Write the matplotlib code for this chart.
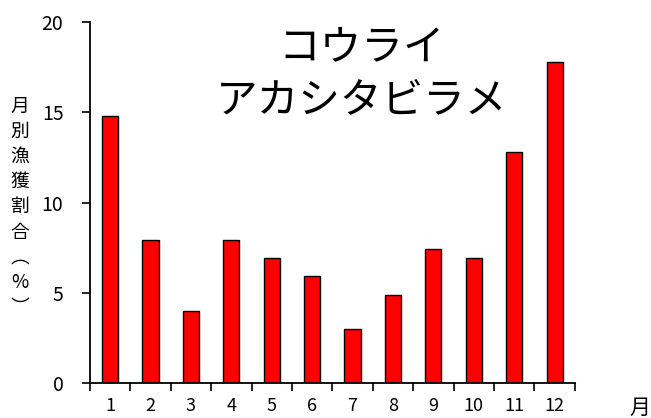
import matplotlib.pyplot as plt

plt.rcParams['font.family'] = ['Noto Sans CJK JP', 'DejaVu Sans']

# Monthly catch share (%)
months = ['1', '2', '3', '4', '5', '6', '7', '8', '9', '10', '11', '12']
share = [14.8, 7.9, 4.0, 7.9, 6.9, 5.9, 3.0, 4.9, 7.4, 6.9, 12.8, 17.8]
title = 'コウライ\nアカシタビラメ'
ylabel = '月別漁獲割合︵%︶'

fig = plt.figure(figsize=(6.51, 4.18), dpi=100)
ax = fig.add_axes([0.138, 0.084, 0.745, 0.863])

centers = [i + 0.5 for i in range(len(months))]
ax.bar(centers, share, width=0.4, color='#ff0000', edgecolor='black', linewidth=1.0)

ax.set_xlim(0, 12)
ax.set_ylim(0, 20)
ax.set_yticks([0, 5, 10, 15, 20])
ax.set_xticks(range(13))
ax.set_xticklabels([''] * 13)
ax.set_xticks(centers, minor=True)
ax.set_xticklabels(months, minor=True)
ax.tick_params(axis='x', which='minor', length=0, pad=10, labelsize=13)
ax.tick_params(axis='x', which='major', length=6, width=1.2, direction='out')
ax.tick_params(axis='y', length=6, width=1.2, direction='out', labelsize=14, pad=13)

for side in ['top', 'right']:
    ax.spines[side].set_visible(False)
for side in ['left', 'bottom']:
    ax.spines[side].set_linewidth(1.3)

ax.text(0.56, 0.985, title, transform=ax.transAxes, ha='center', va='top',
        fontsize=30, linespacing=1.36)

# stacked vertical y label
fig.text(0.031, 0.505, '\n'.join(ylabel), ha='center', va='center',
         fontsize=13.5, linespacing=1.26)

fig.text(0.983, 0.024, '月', ha='center', va='center', fontsize=15)

fig.savefig('out.png', dpi=100)
